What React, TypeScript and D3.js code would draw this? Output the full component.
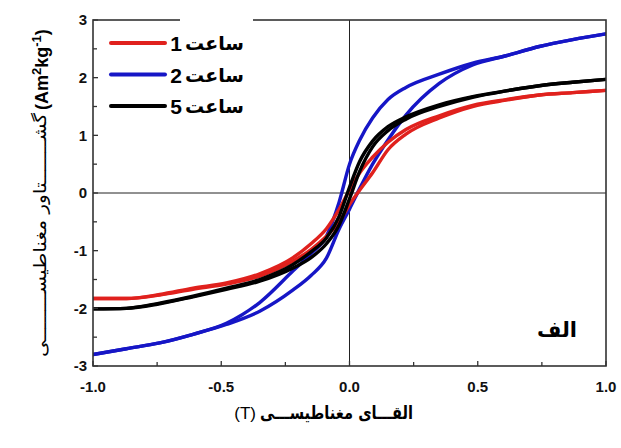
import React from 'react';
import * as d3 from 'd3';

// applied field (T), shared by every branch
const fieldT = [-1, -0.87, -0.74, -0.61, -0.48, -0.35, -0.22, -0.15, -0.09, -0.04, 0, 0.04, 0.09, 0.15, 0.22, 0.35, 0.48, 0.61, 0.74, 0.87, 1];

// magnetisation (Am2/kg), upper (field going down) and lower (field going up) branches
const red1hUpper = [-1.83, -1.83, -1.76, -1.65, -1.56, -1.4, -1.12, -0.88, -0.62, -0.28, 0.05, 0.35, 0.62, 0.88, 1.1, 1.34, 1.52, 1.62, 1.7, 1.74, 1.78];
const red1hLower = [-1.83, -1.83, -1.77, -1.67, -1.58, -1.44, -1.18, -0.98, -0.75, -0.5, -0.2, 0.05, 0.35, 0.75, 1.02, 1.3, 1.5, 1.61, 1.7, 1.74, 1.78];

const blue2hUpper = [-2.8, -2.7, -2.6, -2.45, -2.26, -1.9, -1.35, -1.05, -0.75, -0.15, 0.5, 0.92, 1.3, 1.62, 1.83, 2.06, 2.25, 2.38, 2.54, 2.66, 2.76];
const blue2hLower = [-2.8, -2.7, -2.6, -2.45, -2.28, -2.05, -1.68, -1.43, -1.13, -0.62, -0.28, 0.08, 0.5, 0.92, 1.35, 1.9, 2.22, 2.38, 2.54, 2.66, 2.76];

const black5hUpper = [-2.01, -2.0, -1.91, -1.79, -1.65, -1.5, -1.24, -1.02, -0.78, -0.4, 0.1, 0.55, 0.9, 1.15, 1.32, 1.53, 1.67, 1.77, 1.86, 1.92, 1.97];
const black5hLower = [-2.01, -2.0, -1.92, -1.8, -1.67, -1.53, -1.3, -1.12, -0.88, -0.55, -0.1, 0.38, 0.8, 1.08, 1.28, 1.5, 1.66, 1.77, 1.86, 1.92, 1.97];

const hours = ['1', '2', '5'];
const colors = ['#e0211d', '#1616c6', '#000000'];

const xTicks = [-1, -0.5, 0, 0.5, 1];
const xMinorTicks = [-0.75, -0.25, 0.25, 0.75];
const yTicks = [-3, -2, -1, 0, 1, 2, 3];
const yMinorTicks = [-2.5, -1.5, -0.5, 0.5, 1.5, 2.5];

const num = "'Liberation Sans', Arial, sans-serif";
const fa = "'DejaVu Sans', sans-serif";

export default function App() {
  const x = d3.scaleLinear().domain([-1, 1]).range([93, 606]);
  const y = d3.scaleLinear().domain([-3, 3]).range([366, 20]);

  const line = d3.line<number>()
    .x((_, i) => x(fieldT[i]))
    .y(d => y(d))
    .curve(d3.curveMonotoneX);

  const loops = [
    [blue2hUpper, blue2hLower, colors[1]],
    [red1hUpper, red1hLower, colors[0]],
    [black5hUpper, black5hLower, colors[2]],
  ] as [number[], number[], string][];

  const [x0, x1] = x.range();
  const [yb, yt] = y.range();

  return (
    <div style={{ position: 'absolute', left: 0, top: 0 }}>
      <svg width={621} height={448} style={{ display: 'block', background: '#fff' }}>
        <defs>
          <clipPath id="plot">
            <rect x={x0} y={yt} width={x1 - x0} height={yb - yt} />
          </clipPath>
        </defs>

        {/* zero lines */}
        <line x1={x(0)} x2={x(0)} y1={yt} y2={yb} stroke="#222" strokeWidth={1} />
        <line x1={x0} x2={x1} y1={y(0)} y2={y(0)} stroke="#222" strokeWidth={1} />

        <g clipPath="url(#plot)" fill="none" strokeLinejoin="round" strokeLinecap="round">
          {loops.map(([up, lo, c], i) => (
            <g key={i} stroke={c} strokeWidth={3.4}>
              <path d={line(lo) || ''} />
              <path d={line(up) || ''} />
            </g>
          ))}
        </g>

        {/* frame */}
        <rect x={x0} y={yt} width={x1 - x0} height={yb - yt} fill="none" stroke="#333" strokeWidth={1.6} />

        {/* ticks */}
        {xTicks.map(t => <line key={'xt' + t} x1={x(t)} x2={x(t)} y1={yb} y2={yb - 5} stroke="#333" strokeWidth={1.3} />)}
        {xMinorTicks.map(t => <line key={'xm' + t} x1={x(t)} x2={x(t)} y1={yb} y2={yb - 4} stroke="#333" strokeWidth={1.3} />)}
        {yTicks.map(t => <line key={'yt' + t} x1={x0} x2={x0 + 5} y1={y(t)} y2={y(t)} stroke="#333" strokeWidth={1.3} />)}
        {yMinorTicks.map(t => <line key={'ym' + t} x1={x0} x2={x0 + 4} y1={y(t)} y2={y(t)} stroke="#333" strokeWidth={1.3} />)}

        {/* tick labels */}
        <g fontFamily={num} fontWeight="bold" fontSize={15} fill="#111">
          {xTicks.map(t => (
            <text key={'xl' + t} x={x(t)} y={392} textAnchor="middle">{t.toFixed(1)}</text>
          ))}
          {yTicks.map(t => (
            <text key={'yl' + t} x={87} y={y(t)} dy="0.36em" textAnchor="end">{t}</text>
          ))}
        </g>

        {/* legend */}
        <rect x={180} y={12} width={73} height={106} fill="#fff" />
        {hours.map((h, i) => {
          const ly = 43 + i * 31.5;
          return (
            <g key={h}>
              <line x1={111} x2={165} y1={ly} y2={ly} stroke={colors[i]} strokeWidth={4} strokeLinecap="round" />
              <text x={176} y={ly + 8} textAnchor="middle" fontFamily={num} fontWeight="bold" fontSize={21}>{h}</text>
              <text x={244} y={ly + 7} textAnchor="end" fontFamily={fa} fontWeight="bold" fontSize={19}>ساعت</text>
            </g>
          );
        })}

        {/* panel letter */}
        <text x={577} y={337} textAnchor="end" fontFamily={fa} fontWeight="bold" fontSize={21}>الف</text>

        {/* x axis title */}
        <text x={256} y={419} textAnchor="end" fontFamily={num} fontSize={17}>(T)</text>
        <text x={260} y={419} textLength={153} lengthAdjust="spacingAndGlyphs" fontFamily={fa} fontWeight="bold" fontSize={18}>القـــای مغناطیســـی</text>

        {/* y axis title */}
        <text transform="translate(48,110) rotate(-90)" fontFamily={num} fontWeight="bold" fontSize={18}>
          <tspan>(Am</tspan>
          <tspan dy={-7} fontSize={13}>2</tspan>
          <tspan dy={7}>kg</tspan>
          <tspan dy={-7} fontSize={13}>-1</tspan>
          <tspan dy={7}>)</tspan>
        </text>
        <text transform="translate(46,357) rotate(-90)" textLength={244} lengthAdjust="spacingAndGlyphs" fontFamily={fa} fontSize={17}>گشـــــــتاور مغناطیســــــــی</text>
      </svg>
    </div>
  );
}
